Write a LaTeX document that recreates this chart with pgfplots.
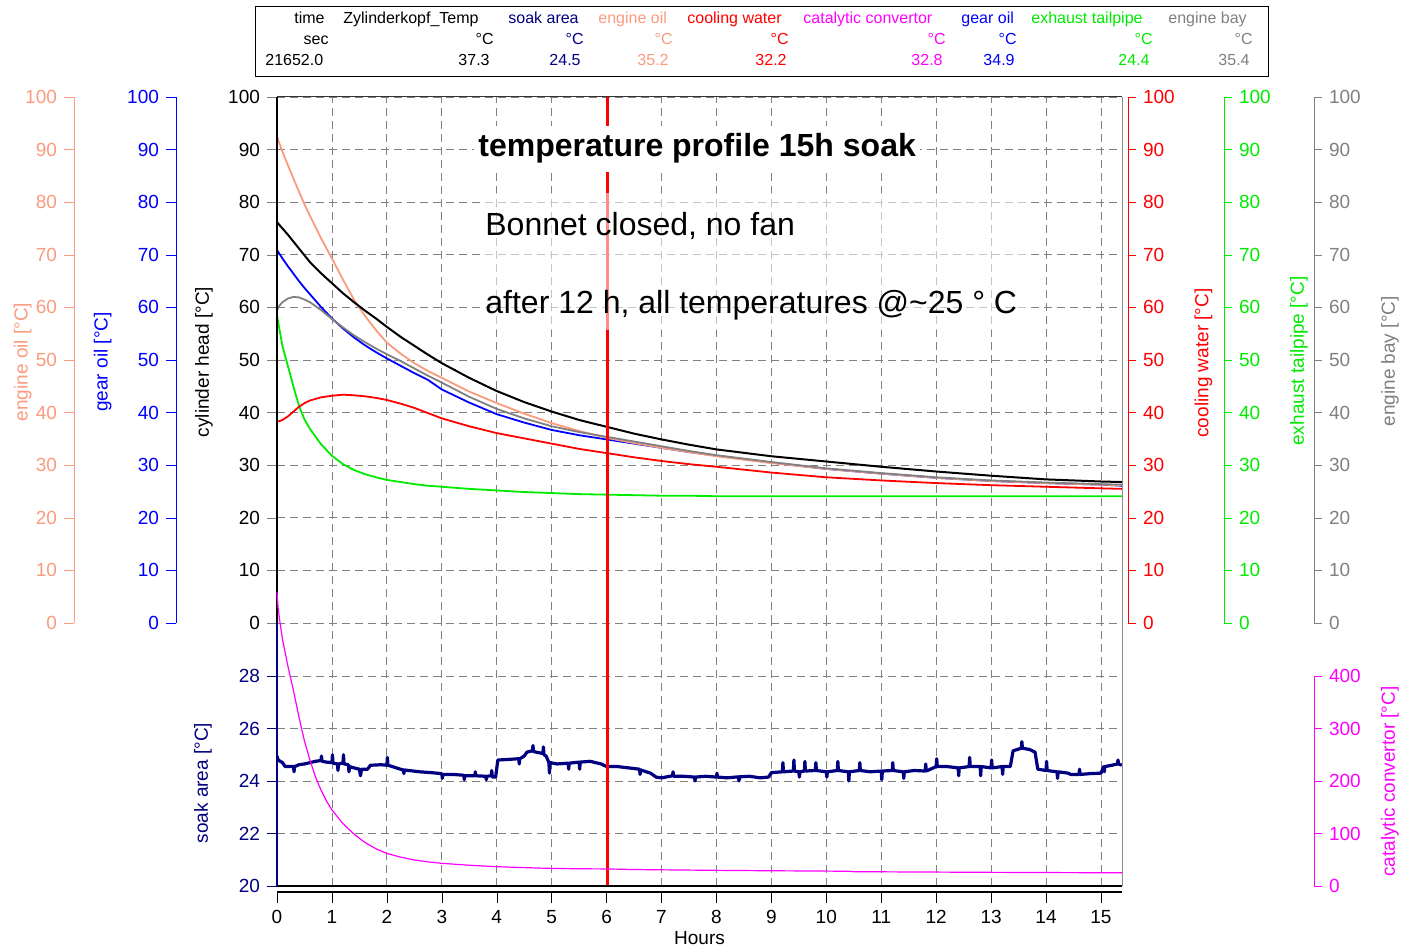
\documentclass[border=0pt]{standalone}
\usepackage{pgfplots}
\pgfplotsset{compat=1.18}
\usepackage{pgfplotstable}
\usepackage{fontspec}
\setmainfont{Liberation Sans}

\definecolor{engoil}{RGB}{250,155,125}
\definecolor{gearoil}{RGB}{0,0,255}
\definecolor{soak}{RGB}{0,0,128}
\definecolor{cwater}{RGB}{255,0,0}
\definecolor{catconv}{RGB}{255,0,255}
\definecolor{exhaust}{RGB}{0,235,0}
\definecolor{bay}{RGB}{128,128,128}

% soak channels, time in hours
\pgfplotstableread{
t      head  oil   gear  bay   water exh
0.00   76.2  92.5  70.9  59.5  38.3  58.5
0.05   75.6  91.0  70.1  60.4  38.4  55.5
0.10   75.0  89.6  69.3  61.0  38.6  52.6
0.20   73.8  87.0  67.8  61.7  39.3  48.8
0.30   72.5  84.5  66.4  62.0  40.2  44.9
0.40   71.2  82.0  65.0  61.9  41.1  41.3
0.50   69.9  79.6  63.7  61.5  41.8  38.7
0.60   68.6  77.4  62.5  61.0  42.3  36.9
0.80   66.5  73.2  60.1  59.5  42.9  34.0
1.00   64.6  69.3  57.9  57.8  43.2  31.8
1.20   62.7  65.3  56.0  56.2  43.4  30.2
1.40   61.0  61.5  54.3  54.7  43.3  29.1
1.60   59.4  58.4  52.8  53.4  43.1  28.3
1.80   57.9  55.7  51.5  52.2  42.8  27.7
2.00   56.3  53.3  50.3  51.1  42.4  27.2
2.25   54.4  51.2  48.9  49.8  41.7  26.8
2.50   52.7  49.4  47.5  48.4  40.9  26.4
2.75   51.0  47.9  46.2  47.0  39.9  26.1
3.00   49.4  46.6  44.4  45.7  38.9  25.9
3.50   46.6  44.0  41.9  43.0  37.4  25.5
4.00   44.1  41.8  39.7  40.7  36.1  25.2
4.50   42.0  39.8  38.1  38.9  35.1  24.9
5.00   40.2  38.0  36.7  37.4  34.1  24.7
5.50   38.6  36.5  35.7  36.3  33.1  24.5
6.00   37.3  35.2  34.9  35.4  32.3  24.4
6.50   36.0  34.2  34.1  34.5  31.5  24.3
7.00   34.9  33.3  33.3  33.6  30.8  24.2
7.50   33.9  32.5  32.5  32.7  30.2  24.2
8.00   33.0  31.7  31.8  31.9  29.7  24.1
9.00   31.7  30.4  30.5  30.6  28.6  24.1
10.00  30.7  29.3  29.3  29.4  27.7  24.1
11.00  29.7  28.4  28.4  28.5  27.1  24.1
12.00  28.8  27.6  27.6  27.7  26.6  24.1
13.00  28.0  27.0  27.0  27.1  26.2  24.1
14.00  27.3  26.6  26.6  26.7  25.9  24.1
15.00  26.9  26.3  26.3  26.4  25.6  24.1
15.38  26.8  26.2  26.1  26.3  25.5  24.1
}\topdata

% catalytic convertor
\pgfplotstableread{
t     cat
0.00  560
0.02  530
0.05  505
0.10  470
0.20  418
0.30  372
0.40  322
0.50  276
0.60  240
0.70  208
0.80  183
0.90  162
1.00  145
1.20  119
1.40  99
1.60  83
1.80  71
2.00  62
2.25  55
2.50  49.5
2.75  46
3.00  43.2
3.50  39.5
4.00  36.8
4.50  35.0
5.00  33.5
5.50  32.8
6.00  32.5
6.50  31.4
7.00  30.8
7.50  30.3
8.00  29.8
9.00  29.0
10.00 28.4
10.40 28.0
10.50 27.3
11.00 27.0
12.00 26.5
13.00 26.0
14.00 25.6
15.00 25.3
15.38 25.2
}\catdata

% soak area (ambient), with its short sensor spikes
\pgfplotstableread{
t     soak
0.00  24.95
0.02  24.80
0.10  24.70
0.15  24.55
0.30  24.55
0.31  24.35
0.32  24.55
0.40  24.62
0.50  24.65
0.60  24.70
0.70  24.75
0.80  24.78
0.81  24.95
0.82  24.75
0.90  24.72
1.00  24.70
1.01  25.00
1.02  24.68
1.10  24.65
1.11  24.40
1.12  24.65
1.20  24.68
1.21  25.00
1.22  24.65
1.30  24.62
1.31  24.35
1.32  24.55
1.40  24.50
1.50  24.45
1.52  24.20
1.54  24.45
1.65  24.45
1.70  24.60
1.90  24.62
2.00  24.60
2.01  24.90
2.02  24.60
2.10  24.55
2.20  24.48
2.30  24.42
2.31  24.28
2.32  24.42
2.40  24.40
2.60  24.35
2.80  24.32
3.00  24.28
3.01  24.10
3.02  24.25
3.20  24.25
3.40  24.22
3.41  24.05
3.42  24.20
3.60  24.20
3.61  24.35
3.62  24.20
3.80  24.18
3.81  24.05
3.82  24.18
3.90  24.20
3.91  24.40
3.92  24.15
3.98  24.15
4.02  24.80
4.20  24.82
4.40  24.85
4.41  24.65
4.42  24.85
4.50  24.95
4.55  25.10
4.65  25.15
4.66  25.35
4.67  25.12
4.84  25.05
4.85  25.30
4.86  25.00
4.90  24.95
4.95  24.70
4.96  24.30
4.97  24.70
5.10  24.65
5.30  24.68
5.31  24.45
5.32  24.68
5.50  24.72
5.51  24.45
5.52  24.72
5.70  24.75
5.90  24.65
6.00  24.55
6.20  24.55
6.40  24.50
6.60  24.45
6.61  24.25
6.62  24.42
6.80  24.30
6.90  24.15
7.00  24.12
7.20  24.20
7.21  24.35
7.22  24.18
7.40  24.18
7.60  24.15
7.61  24.00
7.62  24.15
7.80  24.18
8.00  24.15
8.01  24.30
8.02  24.15
8.20  24.12
8.40  24.16
8.41  24.00
8.42  24.16
8.60  24.18
8.80  24.12
8.95  24.15
9.00  24.32
9.20  24.35
9.21  24.70
9.22  24.35
9.40  24.38
9.41  24.80
9.42  24.38
9.50  24.35
9.51  24.15
9.52  24.35
9.60  24.38
9.61  24.75
9.62  24.38
9.80  24.40
9.81  24.70
9.82  24.40
10.00 24.35
10.01 24.15
10.02 24.35
10.20 24.40
10.21 24.75
10.22 24.40
10.40 24.35
10.41 24.00
10.42 24.35
10.60 24.40
10.61 24.70
10.62 24.40
10.80 24.35
11.00 24.38
11.01 24.05
11.02 24.38
11.20 24.40
11.21 24.70
11.22 24.40
11.40 24.35
11.41 24.10
11.42 24.35
11.60 24.40
11.80 24.38
11.81 24.65
11.82 24.38
12.00 24.55
12.01 24.85
12.02 24.55
12.20 24.55
12.40 24.50
12.41 24.20
12.42 24.50
12.60 24.55
12.61 24.90
12.62 24.55
12.80 24.55
12.81 24.20
12.82 24.55
13.00 24.50
13.01 24.80
13.02 24.50
13.20 24.55
13.21 24.25
13.22 24.55
13.35 24.55
13.40 25.15
13.55 25.25
13.56 25.50
13.57 25.25
13.70 25.20
13.80 25.10
13.85 24.45
14.00 24.40
14.01 24.75
14.02 24.40
14.20 24.35
14.21 24.10
14.22 24.35
14.40 24.30
14.45 24.25
14.60 24.25
14.61 24.45
14.62 24.25
14.80 24.28
15.00 24.30
15.05 24.55
15.06 24.35
15.07 24.55
15.20 24.60
15.30 24.65
15.31 24.80
15.32 24.65
15.38 24.60
}\soakdata

\pgfplotsset{
  every axis/.append style={
    scale only axis,
    /pgf/number format/assume math mode=true,
    tick label style={font=\fontsize{9.5}{11}\selectfont},
    tick align=outside,
  },
  panelgrid/.style={
    xmin=0, xmax=15.383,
    xtick={0,...,15}, xticklabels={}, x tick style={draw=none},
    ytick pos=left, major tick length=5pt,
    grid=major,
    grid style={black!50, line width=0.4pt, dash pattern=on 4pt off 2.5pt},
    axis line style={draw=none},
    clip mode=individual,
  },
  % stand-alone colour scale, one y line only
  leftscale/.style={
    anchor=south west, width=4pt, xmin=0, xmax=1, xtick=\empty,
    axis x line=none, axis y line*=left, major tick length=5pt,
    y axis line style={#1}, y tick style={#1}, yticklabel style={text=#1},
  },
  rightscale/.style={
    anchor=south east, width=4pt, xmin=0, xmax=1, xtick=\empty,
    axis x line=none, axis y line*=right, major tick length=4pt,
    y axis line style={#1}, y tick style={#1}, yticklabel style={text=#1},
  },
}

\begin{document}
\begin{tikzpicture}
\useasboundingbox (0,0) rectangle (702pt,474pt);

% ---------- upper panel: 0 ... 100 degC ----------
\begin{axis}[panelgrid, anchor=south west, at={(138.5pt,162.5pt)},
  width=422.5pt, height=263pt, ymin=0, ymax=100, ytick={0,10,...,100}]
  \addplot[exhaust, line width=0.9pt] table[x=t, y=exh] {\topdata};
  \addplot[cwater, line width=0.9pt] table[x=t, y=water] {\topdata};
  \addplot[gearoil, line width=0.9pt] table[x=t, y=gear] {\topdata};
  \addplot[engoil, line width=0.9pt] table[x=t, y=oil] {\topdata};
  \addplot[bay, line width=0.9pt] table[x=t, y=bay] {\topdata};
  \addplot[black, line width=1pt] table[x=t, y=head] {\topdata};
  \addplot[cwater, line width=1.5pt] coordinates {(6.01,0) (6.01,100)};
  \draw[black, line width=0.6pt] (rel axis cs:0,0) -- (rel axis cs:0,1);
  \draw[black!80, line width=0.5pt] (rel axis cs:0,1) -- (rel axis cs:1,1);
  \draw[black!45, line width=0.5pt] (rel axis cs:1,0) -- (rel axis cs:1,1);
\end{axis}

% ---------- lower panel: soak area 20 ... 30 degC ----------
\begin{axis}[panelgrid, anchor=south west, at={(138.5pt,31pt)},
  width=422.5pt, height=131.5pt, ymin=20, ymax=30.02, ytick={20,22,...,28},
  y tick style={soak}, yticklabel style={text=soak}]
  \addplot[soak, line width=1.6pt, line join=round] table[x=t, y=soak] {\soakdata};
  \addplot[cwater, line width=1.5pt] coordinates {(6.01,20) (6.01,30.02)};
  \draw[soak, line width=0.6pt] (rel axis cs:0,0) -- (rel axis cs:0,1);
  \draw[black, line width=0.6pt] (rel axis cs:0,0) -- (rel axis cs:1,0);
  \draw[black!45, line width=0.5pt] (rel axis cs:1,0) -- (rel axis cs:1,1);
\end{axis}

% catalytic convertor on its own 0 ... 500 scale
\begin{axis}[anchor=south west, at={(138.5pt,31pt)}, width=422.5pt, height=131.5pt,
  xmin=0, xmax=15.383, ymin=0, ymax=501, hide axis, clip=false]
  \addplot[catconv, line width=0.6pt] table[x=t, y=cat] {\catdata};
\end{axis}

% ---------- time axis ----------
\begin{axis}[anchor=south west, at={(138.5pt,28pt)}, width=422.5pt, height=2pt,
  xmin=0, xmax=15.383, ymin=0, ymax=1, axis x line*=bottom, axis y line=none,
  ytick=\empty, xtick={0,...,15}, major tick length=5.5pt,
  x axis line style={black, line width=0.6pt}, x tick style={black},
  xlabel={Hours}, xlabel style={font=\fontsize{9.5}{11}\selectfont, yshift=3pt}]
\end{axis}

% ---------- extra scales ----------
\begin{axis}[leftscale=engoil, at={(37pt,162.5pt)}, height=263pt,
  ymin=0, ymax=100, ytick={0,10,...,100}]
\end{axis}
\begin{axis}[leftscale=gearoil, at={(88pt,162.5pt)}, height=263pt,
  ymin=0, ymax=100, ytick={0,10,...,100}]
\end{axis}
\begin{axis}[rightscale=cwater, at={(564pt,162.5pt)}, height=263pt,
  ymin=0, ymax=100, ytick={0,10,...,100}]
\end{axis}
\begin{axis}[rightscale=exhaust, at={(612pt,162.5pt)}, height=263pt,
  ymin=0, ymax=100, ytick={0,10,...,100}]
\end{axis}
\begin{axis}[rightscale=bay, at={(657pt,162.5pt)}, height=263pt,
  ymin=0, ymax=100, ytick={0,10,...,100}]
\end{axis}
\begin{axis}[rightscale=catconv, at={(657pt,31pt)}, height=105pt,
  ymin=0, ymax=400, ytick={0,100,...,400}]
\end{axis}

% ---------- scale titles ----------
\begin{scope}[every node/.style={rotate=90, font=\fontsize{9.5}{11}\selectfont, inner sep=0pt}]
  \node[text=engoil]  at (11.3pt,293pt) {engine oil [°C]};
  \node[text=gearoil] at (51.3pt,293pt) {gear oil [°C]};
  \node[text=black]   at (102pt,293pt) {cylinder head [°C]};
  \node[text=cwater]  at (601.7pt,292.5pt) {cooling water [°C]};
  \node[text=exhaust] at (649.5pt,293.5pt) {exhaust tailpipe [°C]};
  \node[text=bay]     at (695pt,293.3pt) {engine bay [°C]};
  \node[text=soak]    at (101.5pt,82.5pt) {soak area [°C]};
  \node[text=catconv] at (695pt,83.2pt) {catalytic convertor [°C]};
\end{scope}

% ---------- annotations ----------
\node[anchor=base west, fill=white, inner xsep=2pt, inner ysep=4pt,
  font=\fontsize{16}{19}\bfseries\selectfont] at (237pt,395.5pt) {temperature profile 15h soak};
\fill[white, opacity=0.55] (240pt,309pt) rectangle (515pt,377.5pt);
\node[anchor=base west, inner sep=0pt, font=\fontsize{16}{19}\selectfont]
  at (242.5pt,356pt) {Bonnet closed, no fan};
\node[anchor=base west, inner sep=0pt, font=\fontsize{16}{19}\selectfont]
  at (242.5pt,317pt) {after 12 h, all temperatures @\textasciitilde 25 ° C};

% ---------- cursor readout ----------
\draw[black, line width=0.5pt] (127.5pt,435.5pt) rectangle (634pt,470.5pt);
\begin{scope}[every node/.style={font=\fontsize{8}{9.5}\selectfont, inner sep=0pt}]
  \node[anchor=base east] at (162.5pt,462pt) {time};
  \node[anchor=base west] at (171.5pt,462pt) {Zylinderkopf\_Temp};
  \node[anchor=base west, text=soak]    at (254pt,462pt) {soak area};
  \node[anchor=base west, text=engoil]  at (299pt,462pt) {engine oil};
  \node[anchor=base west, text=cwater]  at (343.5pt,462pt) {cooling water};
  \node[anchor=base west, text=catconv] at (401.5pt,462pt) {catalytic convertor};
  \node[anchor=base west, text=gearoil] at (480.5pt,462pt) {gear oil};
  \node[anchor=base west, text=exhaust] at (515.5pt,462pt) {exhaust tailpipe};
  \node[anchor=base west, text=bay]     at (584pt,462pt) {engine bay};

  \node[anchor=base east] at (164.5pt,451.5pt) {sec};
  \node[anchor=base east] at (247pt,451.5pt) {°C};
  \node[anchor=base east, text=soak]    at (292pt,451.5pt) {°C};
  \node[anchor=base east, text=engoil]  at (336.5pt,451.5pt) {°C};
  \node[anchor=base east, text=cwater]  at (394.5pt,451.5pt) {°C};
  \node[anchor=base east, text=catconv] at (473pt,451.5pt) {°C};
  \node[anchor=base east, text=gearoil] at (508.5pt,451.5pt) {°C};
  \node[anchor=base east, text=exhaust] at (576.5pt,451.5pt) {°C};
  \node[anchor=base east, text=bay]     at (626.5pt,451.5pt) {°C};

  \node[anchor=base west] at (132.5pt,441pt) {21652.0};
  \node[anchor=base east] at (245pt,441pt) {37.3};
  \node[anchor=base east, text=soak]    at (290.5pt,441pt) {24.5};
  \node[anchor=base east, text=engoil]  at (334.5pt,441pt) {35.2};
  \node[anchor=base east, text=cwater]  at (393.5pt,441pt) {32.2};
  \node[anchor=base east, text=catconv] at (471.5pt,441pt) {32.8};
  \node[anchor=base east, text=gearoil] at (507.5pt,441pt) {34.9};
  \node[anchor=base east, text=exhaust] at (575pt,441pt) {24.4};
  \node[anchor=base east, text=bay]     at (625pt,441pt) {35.4};
\end{scope}
\end{tikzpicture}
\end{document}
